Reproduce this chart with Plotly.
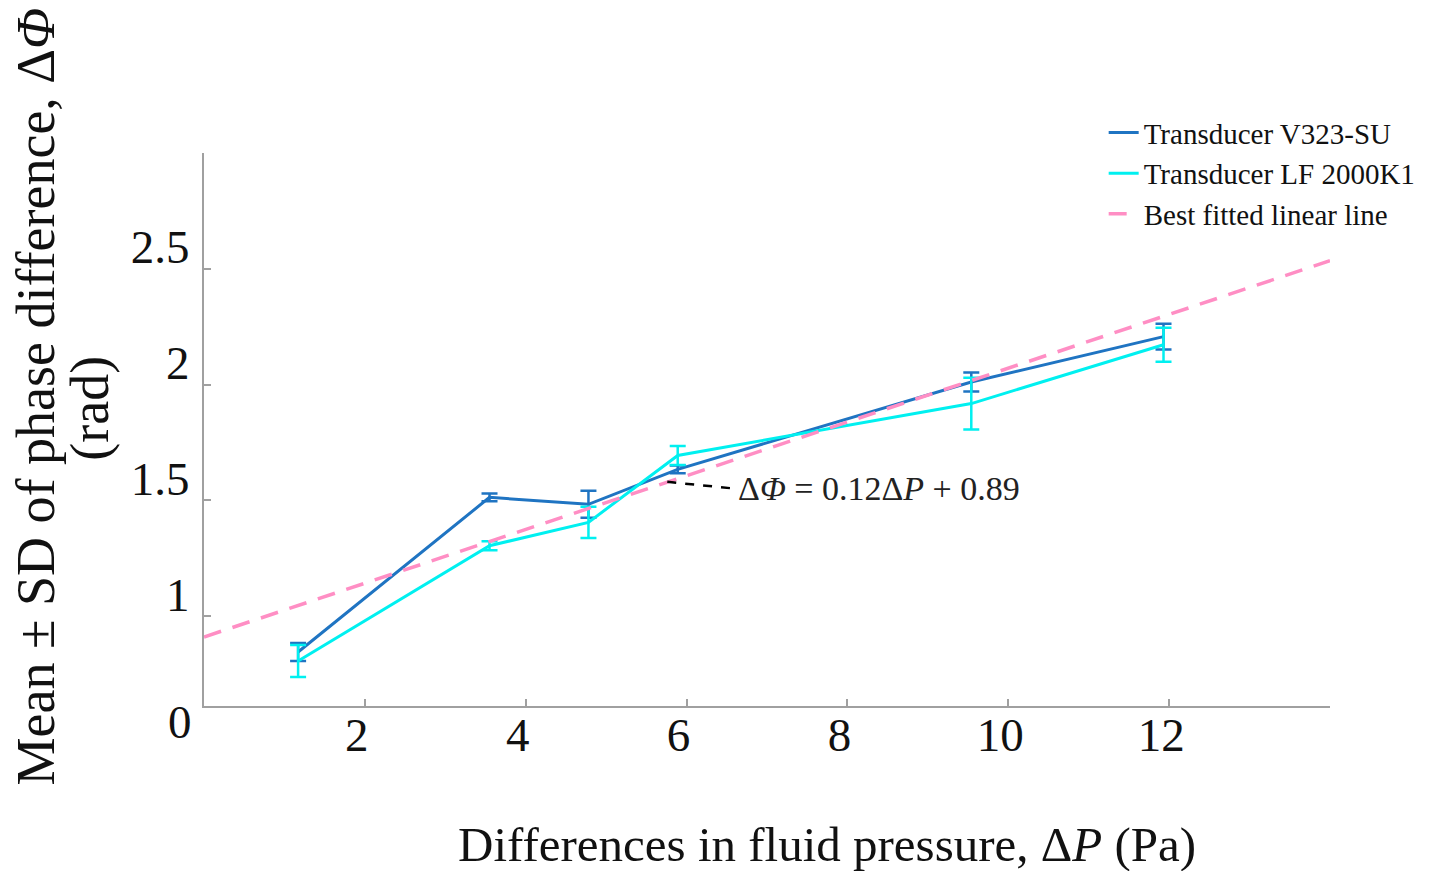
import plotly.graph_objects as go

# ---- data ----
pressure_v323 = [1.17, 3.55, 4.78, 5.89, 9.54, 11.93]
phase_v323 = [0.845, 1.513, 1.483, 1.634, 2.011, 2.207]
sd_v323 = [0.039, 0.017, 0.058, 0.017, 0.041, 0.056]

pressure_lf = [1.17, 3.55, 4.78, 5.89, 9.54, 11.93]
phase_lf = [0.806, 1.304, 1.405, 1.694, 1.918, 2.172]
sd_lf = [0.069, 0.019, 0.067, 0.041, 0.112, 0.073]

fit_x = [0, 14]
fit_y = [0.91, 2.535]

x_tickvals = [2, 4, 6, 8, 10, 12, 14]
x_ticktext = ["2", "4", "6", "8", "10", "12", ""]
y_tickvals = [1, 1.5, 2, 2.5, 3.0]
y_ticktext = ["1", "1.5", "2", "2.5", ""]
y_origin_label = "0"
y_range = [0.612, 3.0]

eq_anchor = (5.76, 1.58)   # point on fitted line where the leader starts
eq_text_pos = (6.62, 1.55)  # where the equation text begins

FONT = "Liberation Serif, Times New Roman, serif"
BLUE = "#1f74c2"
CYAN = "#00f0f0"
PINK = "#ff8ec4"
AXIS = "#a0a0a0"

fig = go.Figure()

fig.add_trace(go.Scatter(
    x=pressure_v323, y=phase_v323, mode="lines",
    name="Transducer V323-SU",
    line=dict(color=BLUE, width=3),
    error_y=dict(type="data", array=sd_v323, visible=True, color=BLUE, thickness=2.5, width=8),
))
fig.add_trace(go.Scatter(
    x=pressure_lf, y=phase_lf, mode="lines",
    name="Transducer LF 2000K1",
    line=dict(color=CYAN, width=3),
    error_y=dict(type="data", array=sd_lf, visible=True, color=CYAN, thickness=2.5, width=8),
))
fig.add_trace(go.Scatter(
    x=fit_x, y=fit_y, mode="lines",
    name="Best fitted linear line",
    line=dict(color=PINK, width=3.5, dash="18px,12px"),
))

# dashed leader line from fit line to equation
fig.add_shape(type="line", xref="x", yref="y",
              x0=eq_anchor[0], y0=eq_anchor[1], x1=eq_text_pos[0], y1=eq_text_pos[1],
              line=dict(color="black", width=2.5, dash="dash"))
fig.add_annotation(x=eq_text_pos[0], y=eq_text_pos[1], xref="x", yref="y",
                   text="Δ<i>Φ</i> = 0.12Δ<i>P</i> + 0.89", showarrow=False,
                   xanchor="left", yanchor="middle",
                   font=dict(family=FONT, size=34, color="#222"))

# origin label of the y axis
fig.add_annotation(x=0, y=y_range[0], xref="paper", yref="y",
                   text=y_origin_label, showarrow=False,
                   xanchor="right", yanchor="middle", xshift=-10, yshift=-16,
                   font=dict(family=FONT, size=47, color="#111"))

# axis titles
fig.add_annotation(x=0.553, y=-0.251, xref="paper", yref="paper",
                   text="Differences in fluid pressure, Δ<i>P</i> (Pa)", showarrow=False,
                   xanchor="center", yanchor="middle",
                   font=dict(family=FONT, size=49, color="#111"))
fig.add_annotation(x=-0.1495, y=0.559, xref="paper", yref="paper",
                   text="Mean ± SD of phase difference, Δ<i>Φ</i>", showarrow=False,
                   textangle=-90, xanchor="center", yanchor="middle",
                   font=dict(family=FONT, size=54, color="#111"))
fig.add_annotation(x=-0.1015, y=0.539, xref="paper", yref="paper",
                   text="(rad)", showarrow=False,
                   textangle=-90, xanchor="center", yanchor="middle",
                   font=dict(family=FONT, size=54, color="#111"))

fig.update_layout(
    width=1438, height=871,
    margin=dict(l=204, r=108, t=153, b=165),
    plot_bgcolor="white", paper_bgcolor="white",
    showlegend=True,
    legend=dict(x=0.799, y=1.083, xanchor="left", yanchor="top",
                font=dict(family=FONT, size=29, color="#111"),
                bgcolor="rgba(0,0,0,0)", tracegroupgap=0, itemwidth=30),
    font=dict(family=FONT),
)
fig.update_xaxes(
    range=[0, 14], tickvals=x_tickvals, ticktext=x_ticktext,
    showgrid=False, zeroline=False, showline=True, linecolor=AXIS, linewidth=2,
    ticks="inside", ticklen=7, tickcolor=AXIS, tickwidth=2,
    tickfont=dict(family=FONT, size=47, color="#111"),
    ticklabelshift=-8, ticklabelstandoff=-13,
)
fig.update_yaxes(
    range=y_range, tickvals=y_tickvals, ticktext=y_ticktext,
    showgrid=False, zeroline=False, showline=True, linecolor=AXIS, linewidth=2,
    ticks="inside", ticklen=7, tickcolor=AXIS, tickwidth=2,
    tickfont=dict(family=FONT, size=47, color="#111"),
    ticklabelshift=-22, ticklabelstandoff=3,
)

POST = (
    "document.documentElement.style.margin='0';"
    "document.documentElement.style.overflow='hidden';"
    "document.body.style.margin='0';"
    "document.body.style.overflow='hidden';"
    "var gd=document.getElementById('{plot_id}');"
    "gd.style.overflow='hidden';gd.style.width='1438px';gd.style.height='871px';"
)

fig.write_html(
    "out.html",
    config={"displayModeBar": False, "responsive": False},
    post_script=POST,
)
